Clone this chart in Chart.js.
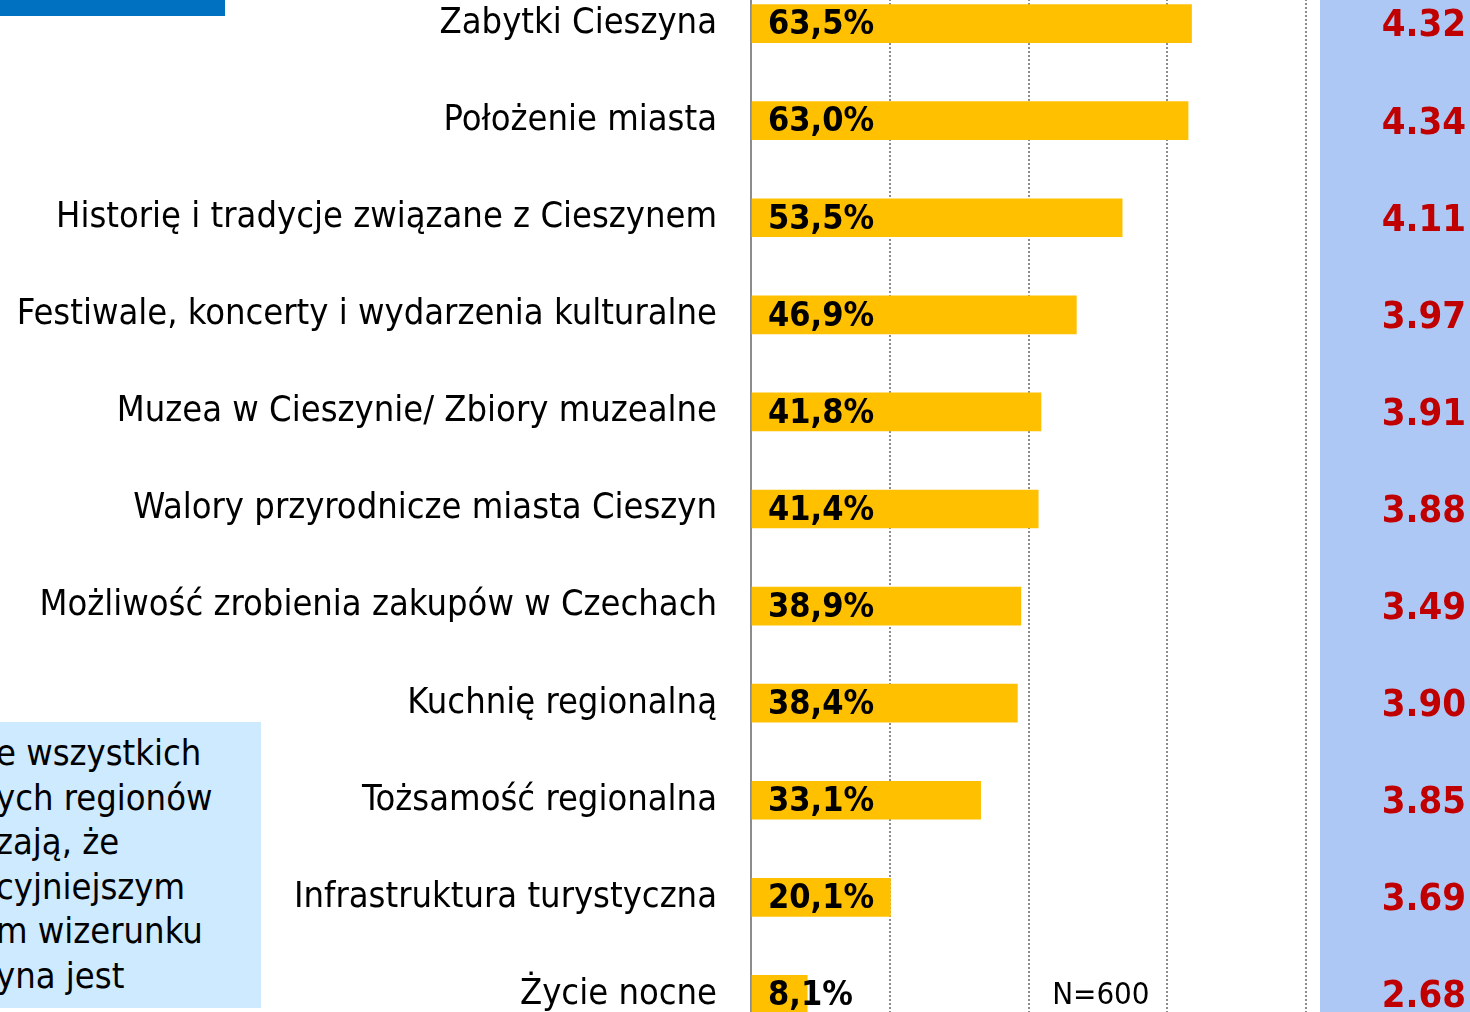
<!DOCTYPE html>
<html>
<head>
<meta charset="utf-8">
<script src="https://cdn.jsdelivr.net/npm/chart.js@4.4.1/dist/chart.umd.min.js"></script>
<style>
  html, body { margin: 0; padding: 0; background: #fff; overflow: hidden; }
  body { width: 1470px; height: 1012px; position: relative; font-family: "DejaVu Sans Condensed", "DejaVu Sans", sans-serif; }
  #topBar { position: absolute; left: 0; top: 0; width: 225px; height: 16px; background: #0070c0; }
  #wrap { position: absolute; left: 0; top: -25px; width: 1470px; height: 1068px; }
  #note { position: absolute; left: 0; top: 722px; width: 261px; height: 286px; background: #cdeaff; overflow: hidden; z-index: 2; }
  #note div { position: absolute; left: -4px; font-size: 36px; line-height: 44.6px; color: #000; white-space: nowrap; }
</style>
</head>
<body>
<div id="topBar"></div>
<div id="wrap"><canvas id="chart"></canvas></div>
<div id="note">
  <div style="top:9px">e wszystkich</div>
  <div style="top:54px">ych regionów</div>
  <div style="top:98px">zają, że</div>
  <div style="top:143px">cyjniejszym</div>
  <div style="top:187px">m wizerunku</div>
  <div style="top:232px">yna jest</div>
</div>
<script>
// Data
const categories = [
  "Zabytki Cieszyna",
  "Położenie miasta",
  "Historię i tradycje związane z Cieszynem",
  "Festiwale, koncerty i wydarzenia kulturalne",
  "Muzea w Cieszynie/ Zbiory muzealne",
  "Walory przyrodnicze miasta Cieszyn",
  "Możliwość zrobienia zakupów w Czechach",
  "Kuchnię regionalną",
  "Tożsamość regionalna",
  "Infrastruktura turystyczna",
  "Życie nocne"
];
const shares = [63.5, 63.0, 53.5, 46.9, 41.8, 41.4, 38.9, 38.4, 33.1, 20.1, 8.1];
const ratings = ["4.32", "4.34", "4.11", "3.97", "3.91", "3.88", "3.49", "3.90", "3.85", "3.69", "2.68"];
const xTicks = [0, 20, 40, 60, 80];
const sampleNote = "N=600";

const FONT = '"DejaVu Sans Condensed", "DejaVu Sans", sans-serif';

// percentage labels, right column, note
const extras = {
  id: "extras",
  beforeDraw(chart) {
    const ctx = chart.ctx;
    ctx.save();
    ctx.fillStyle = "#adc8f5";
    ctx.fillRect(1320, 0, 150, chart.height);
    ctx.restore();
  },
  afterDatasetsDraw(chart) {
    const ctx = chart.ctx;
    const x = chart.scales.x;
    const y = chart.scales.y;
    ctx.save();
    ctx.textBaseline = "middle";
    shares.forEach((v, i) => {
      const cy = y.getPixelForValue(i);
      ctx.font = "bold 34px " + FONT;
      ctx.fillStyle = "#000";
      ctx.textAlign = "left";
      ctx.fillText(v.toFixed(1).replace(".", ",") + "%", x.getPixelForValue(0) + 17, cy + 2);
      ctx.font = "bold 38px " + FONT;
      ctx.fillStyle = "#c00000";
      ctx.textAlign = "right";
      ctx.fillText(ratings[i], 1466, cy + 3);
    });
    ctx.font = "31px " + FONT;
    ctx.fillStyle = "#000";
    ctx.textAlign = "center";
    ctx.fillText(sampleNote, x.getPixelForValue(50) + 3, y.getPixelForValue(categories.length - 1) + 1);
    ctx.restore();
  }
};

new Chart(document.getElementById("chart"), {
  type: "bar",
  data: {
    labels: categories,
    datasets: [{
      data: shares,
      backgroundColor: "#ffc000",
      borderWidth: 0,
      barThickness: 38
    }]
  },
  options: {
    indexAxis: "y",
    responsive: true,
    maintainAspectRatio: false,
    animation: false,
    layout: { padding: { left: 0, right: 164, top: 0, bottom: 0 } },
    plugins: { legend: { display: false }, tooltip: { enabled: false } },
    scales: {
      x: {
        min: 0,
        max: 80,
        afterBuildTicks: (s) => { s.ticks = xTicks.map(v => ({ value: v })); },
        afterFit: (s) => { s.height = 0; s.paddingLeft = 0; s.paddingRight = 0; },
        ticks: { display: false },
        grid: { color: "#8c8c8c", lineWidth: 2, drawTicks: false },
        border: { display: false, dash: [2, 2] }
      },
      y: {
        afterFit: (s) => { s.width = 751; s.paddingTop = 0; s.paddingBottom = 0; },
        grid: { display: false, drawTicks: false },
        border: { display: true, color: "#8c8c8c", width: 2, dash: [2, 2] },
        ticks: {
          padding: 34,
          labelOffset: 0,
          color: "#000",
          font: { family: FONT, size: 36 }
        }
      }
    }
  },
  plugins: [extras]
});
</script>
</body>
</html>
